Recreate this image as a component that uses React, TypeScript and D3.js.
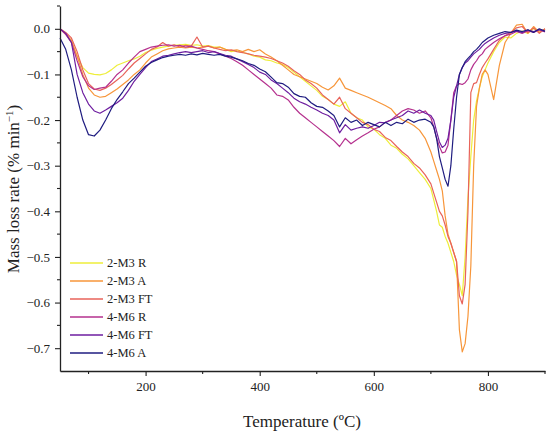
import { useEffect, useRef } from "react"
import * as d3 from "d3"

// temperature grid (°C) shared by all series
const temps = [
  50, 60, 70, 80, 90, 100, 110, 120, 130, 140,
  150, 160, 170, 180, 190, 200, 210, 220, 230, 240,
  250, 260, 270, 280, 290, 300, 310, 320, 330, 340,
  350, 360, 370, 380, 390, 400, 410, 420, 430, 440,
  450, 460, 470, 480, 490, 500, 510, 520, 530, 540,
  550, 560, 570, 580, 590, 600, 610, 620, 630, 640,
  650, 660, 670, 680, 690, 700,
  705, 710, 715, 720, 725, 730, 735, 740, 745, 750,
  755, 760, 765, 770, 775, 780, 785, 790, 795, 800,
  810, 820, 830, 840, 850, 860, 870, 880, 890, 900,
]

const m3R = [
  0, -0.01, -0.03, -0.06, -0.085, -0.097, -0.1, -0.101, -0.098, -0.09,
  -0.08, -0.075, -0.07, -0.066, -0.06, -0.052, -0.047, -0.043, -0.04, -0.038,
  -0.036, -0.035, -0.034, -0.036, -0.035, -0.038, -0.037, -0.04, -0.04, -0.045,
  -0.05, -0.048, -0.052, -0.055, -0.06, -0.062, -0.068, -0.07, -0.075, -0.078,
  -0.085, -0.095, -0.105, -0.115, -0.125, -0.135, -0.148, -0.155, -0.165, -0.17,
  -0.16, -0.185, -0.195, -0.2, -0.215, -0.22, -0.232, -0.24, -0.255, -0.262,
  -0.275, -0.285, -0.3, -0.315, -0.33, -0.35,
  -0.375, -0.4, -0.43, -0.435, -0.455, -0.47, -0.49, -0.51, -0.54, -0.56,
  -0.585, -0.5, -0.37, -0.28, -0.2, -0.158, -0.13, -0.105, -0.09, -0.075,
  -0.05, -0.03, -0.018, -0.02, -0.01, -0.005, -0.01, 0, -0.005, -0.002,
]

const m3A = [
  0, -0.012, -0.025, -0.06, -0.1, -0.13, -0.145, -0.15, -0.148, -0.14,
  -0.132, -0.122, -0.112, -0.1, -0.09, -0.075, -0.062, -0.055, -0.048, -0.044,
  -0.042, -0.04, -0.042, -0.04, -0.042, -0.04, -0.038, -0.042, -0.04, -0.045,
  -0.048, -0.046, -0.05, -0.045, -0.05, -0.046, -0.055, -0.062, -0.07, -0.08,
  -0.09, -0.1, -0.105, -0.11, -0.115, -0.12, -0.128, -0.134, -0.125, -0.108,
  -0.13, -0.135, -0.14, -0.145, -0.15, -0.156, -0.162, -0.168, -0.175, -0.19,
  -0.2, -0.205, -0.212, -0.222, -0.24, -0.27,
  -0.29, -0.31, -0.33, -0.355, -0.41, -0.45, -0.47, -0.49, -0.51, -0.66,
  -0.708, -0.69, -0.63, -0.52, -0.3, -0.17, -0.13, -0.1, -0.09, -0.1,
  -0.155, -0.08, -0.03, -0.01, 0.008, 0.01, -0.01, 0.005, -0.008, 0,
]

const m3FT = [
  0, -0.008, -0.02, -0.05, -0.09, -0.12, -0.132, -0.135, -0.13, -0.122,
  -0.112, -0.102, -0.088, -0.075, -0.065, -0.055, -0.045, -0.04, -0.03, -0.038,
  -0.035, -0.04, -0.036, -0.038, -0.018, -0.04, -0.038, -0.042, -0.045, -0.048,
  -0.046, -0.05, -0.052, -0.055, -0.058, -0.06, -0.062, -0.065, -0.07, -0.075,
  -0.082, -0.092, -0.1, -0.112, -0.12, -0.13, -0.145, -0.155, -0.165, -0.15,
  -0.175, -0.185, -0.195, -0.205, -0.21, -0.22, -0.225, -0.238, -0.245, -0.258,
  -0.27, -0.28, -0.295, -0.305, -0.32, -0.34,
  -0.36, -0.38, -0.4, -0.41, -0.43, -0.455, -0.47, -0.49, -0.51, -0.585,
  -0.603, -0.56, -0.4, -0.14, -0.12, -0.118, -0.1, -0.085, -0.075, -0.066,
  -0.045, -0.025, -0.015, -0.008, 0.002, 0.005, -0.008, 0.002, -0.01, 0,
]

const m6R = [
  0, -0.012, -0.03, -0.07, -0.105, -0.125, -0.133, -0.13, -0.128, -0.115,
  -0.1, -0.09, -0.075, -0.062, -0.05, -0.045, -0.04, -0.038, -0.036, -0.035,
  -0.038, -0.036, -0.04, -0.038, -0.042, -0.045, -0.048, -0.05, -0.055, -0.06,
  -0.065, -0.072, -0.08, -0.09, -0.1, -0.11, -0.12, -0.13, -0.145, -0.148,
  -0.156, -0.172, -0.185, -0.195, -0.205, -0.215, -0.225, -0.235, -0.245, -0.258,
  -0.24, -0.252, -0.243, -0.235, -0.228, -0.22, -0.215, -0.205, -0.2, -0.19,
  -0.18, -0.175, -0.178, -0.185, -0.18, -0.195,
  -0.215, -0.24, -0.258, -0.272, -0.27, -0.255, -0.2, -0.14, -0.125, -0.12,
  -0.122, -0.118, -0.11, -0.09, -0.078, -0.07, -0.06, -0.055, -0.045, -0.04,
  -0.03, -0.022, -0.015, -0.012, -0.006, -0.01, -0.004, -0.008, -0.002, -0.007,
]

const m6FT = [
  0, -0.01, -0.03, -0.1, -0.14, -0.165, -0.18, -0.185, -0.178, -0.17,
  -0.162, -0.152, -0.135, -0.115, -0.1, -0.085, -0.072, -0.066, -0.06, -0.058,
  -0.055, -0.052, -0.05, -0.052, -0.05, -0.048, -0.052, -0.05, -0.054, -0.058,
  -0.06, -0.066, -0.072, -0.078, -0.085, -0.095, -0.1, -0.112, -0.12, -0.13,
  -0.14, -0.152, -0.16, -0.165, -0.172, -0.178, -0.185, -0.19, -0.2, -0.228,
  -0.21, -0.222, -0.218, -0.215, -0.218, -0.212, -0.205, -0.206, -0.2, -0.195,
  -0.19, -0.18, -0.185, -0.178, -0.185, -0.19,
  -0.2, -0.225, -0.248, -0.26, -0.255, -0.24, -0.2, -0.15, -0.125, -0.1,
  -0.085, -0.075, -0.07, -0.062, -0.055, -0.05, -0.045, -0.038, -0.032, -0.028,
  -0.02, -0.014, -0.01, -0.008, -0.005, -0.008, -0.003, -0.006, -0.002, -0.006,
]

const m6A = [
  -0.02, -0.045, -0.09, -0.15, -0.2, -0.232, -0.235, -0.222, -0.2, -0.175,
  -0.155, -0.138, -0.12, -0.108, -0.095, -0.082, -0.074, -0.068, -0.063, -0.06,
  -0.058, -0.056, -0.058, -0.055, -0.057, -0.054, -0.056, -0.058, -0.056, -0.06,
  -0.062, -0.066, -0.07, -0.076, -0.08, -0.088, -0.094, -0.106, -0.118, -0.12,
  -0.128, -0.142, -0.148, -0.15, -0.162, -0.17, -0.172, -0.18, -0.19, -0.215,
  -0.195, -0.205, -0.2, -0.212, -0.205, -0.21, -0.215, -0.205, -0.212, -0.205,
  -0.208, -0.198, -0.205, -0.2, -0.198, -0.205,
  -0.215, -0.24, -0.28, -0.305, -0.33, -0.345, -0.3, -0.22, -0.15, -0.1,
  -0.085, -0.072, -0.065, -0.058, -0.05, -0.045, -0.038, -0.03, -0.025, -0.02,
  -0.014, -0.01, -0.006, -0.008, -0.003, -0.006, -0.002, -0.008, 0, -0.005,
]

const seriesNames = ["2-M3 R", "2-M3 A", "2-M3 FT", "4-M6 R", "4-M6 FT", "4-M6 A"]
const seriesValues = [m3R, m3A, m3FT, m6R, m6FT, m6A]
const seriesColors = ["#eeee3a", "#f7963a", "#e8635a", "#b5318e", "#6e1ea0", "#1f1c80"]

const xTicks = [200, 400, 600, 800]
const xMinorTicks = [100, 300, 500, 700, 900]
const yTicks = [0, -0.1, -0.2, -0.3, -0.4, -0.5, -0.6, -0.7]
const yMinorTicks = [0.05, -0.05, -0.15, -0.25, -0.35, -0.45, -0.55, -0.65]

const FONT = "'Liberation Serif', 'DejaVu Serif', serif"

export default function App() {
  const svgRef = useRef<SVGSVGElement>(null)

  useEffect(() => {
    if (!svgRef.current) return
    const root = d3.select(svgRef.current)
    root.selectAll("*").remove()

    const width = 550
    const height = 435
    const margin = { top: 6, right: 5, bottom: 64, left: 60 }

    const x = d3.scaleLinear().domain([50, 900]).range([margin.left, width - margin.right])
    const y = d3.scaleLinear().domain([-0.75, 0.05]).range([height - margin.bottom, margin.top])

    // Lines
    const line = d3
      .line<[number, number]>()
      .x((d) => x(d[0]))
      .y((d) => y(d[1]))

    seriesValues.forEach((vals, i) => {
      const pts: [number, number][] = temps.slice(0, vals.length).map((t, j) => [t, vals[j]])
      root
        .append("path")
        .attr("d", line(pts) as string)
        .attr("fill", "none")
        .attr("stroke", seriesColors[i])
        .attr("stroke-width", 1.2)
        .attr("stroke-linejoin", "round")
    })

    // Axes
    const xAxis = d3
      .axisBottom(x)
      .tickValues(xTicks)
      .tickSize(5)
      .tickSizeOuter(0)
      .tickPadding(6)
      .tickFormat(d3.format("d") as any)
    const gx = root.append("g").attr("transform", `translate(0,${height - margin.bottom})`).call(xAxis)

    const yAxis = d3
      .axisLeft(y)
      .tickValues(yTicks)
      .tickSize(5)
      .tickSizeOuter(0)
      .tickPadding(5)
      .tickFormat(d3.format(".1f") as any)
    const gy = root.append("g").attr("transform", `translate(${margin.left},0)`).call(yAxis)

    ;[gx, gy].forEach((g) => {
      g.select(".domain").attr("stroke", "#222").attr("stroke-width", 1.3)
      g.selectAll(".tick line").attr("stroke", "#222").attr("stroke-width", 1.1)
      g.selectAll(".tick text").attr("fill", "#222").style("font-family", FONT).style("font-size", "13px")
    })

    // Minor ticks
    root
      .append("g")
      .selectAll("line")
      .data(xMinorTicks)
      .enter()
      .append("line")
      .attr("x1", (d) => x(d))
      .attr("x2", (d) => x(d))
      .attr("y1", height - margin.bottom)
      .attr("y2", height - margin.bottom + 3)
      .attr("stroke", "#222")
      .attr("stroke-width", 1.1)

    root
      .append("g")
      .selectAll("line")
      .data(yMinorTicks)
      .enter()
      .append("line")
      .attr("x1", margin.left - 3)
      .attr("x2", margin.left)
      .attr("y1", (d) => y(d))
      .attr("y2", (d) => y(d))
      .attr("stroke", "#222")
      .attr("stroke-width", 1.1)

    // Axis titles
    root
      .append("text")
      .attr("x", 302)
      .attr("y", 427)
      .attr("text-anchor", "middle")
      .style("font-family", FONT)
      .style("font-size", "17px")
      .attr("fill", "#222")
      .text("Temperature (ºC)")

    const yt = root
      .append("text")
      .attr("transform", `translate(19,189) rotate(-90)`)
      .attr("text-anchor", "middle")
      .style("font-family", FONT)
      .style("font-size", "17px")
      .attr("fill", "#222")
    yt.append("tspan").text("Mass loss rate (% min")
    yt.append("tspan").attr("dy", -6).style("font-size", "11px").text("−1")
    yt.append("tspan").attr("dy", 6).text(")")

    // Legend
    const legend = root.append("g").attr("transform", "translate(70,263)")
    seriesNames.forEach((name, i) => {
      const item = legend.append("g").attr("transform", `translate(0,${i * 18})`)
      item
        .append("line")
        .attr("x1", 0)
        .attr("x2", 33)
        .attr("stroke", seriesColors[i])
        .attr("stroke-width", 1.3)
      item
        .append("text")
        .attr("x", 37)
        .attr("y", 4)
        .style("font-family", FONT)
        .style("font-size", "12.5px")
        .attr("fill", "#222")
        .text(name)
    })
  }, [])

  return (
    <svg
      ref={svgRef}
      width={550}
      height={435}
      style={{ position: "absolute", left: 0, top: 0, background: "#fff" }}
    ></svg>
  )
}
